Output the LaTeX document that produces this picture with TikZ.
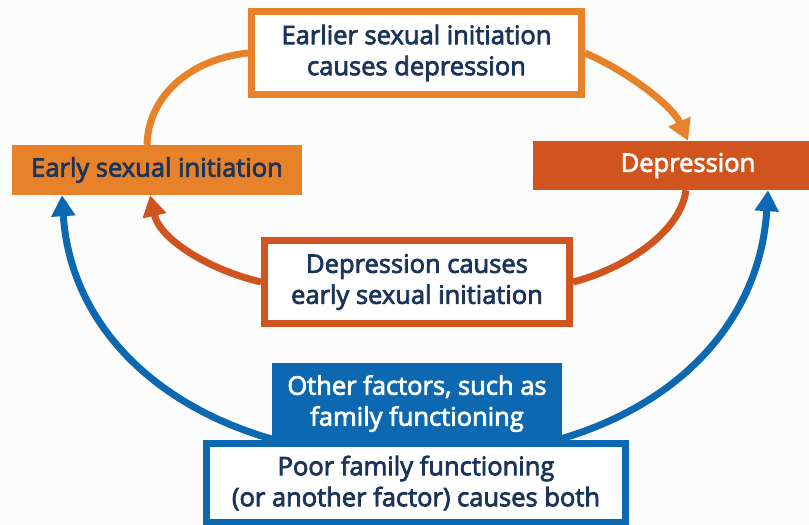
\documentclass[tikz,border=0pt]{standalone}
\usepackage{fontspec}
\setmainfont{Open Sans}[FakeBold=3]
\usetikzlibrary{arrows.meta}
\definecolor{lor}{HTML}{E8822A}
\definecolor{dor}{HTML}{D0541E}
\definecolor{blu}{HTML}{0C68B0}
\definecolor{navy}{HTML}{1A345A}
\pgfdeclarelayer{bglayer}
\pgfdeclarelayer{connlayer}
\pgfsetlayers{bglayer,connlayer,main}
\begin{document}
\begin{tikzpicture}[x=1pt,y=-1pt,
  txt/.style={font=\fontsize{25.5}{31}\selectfont, align=center, inner sep=0pt},
  solidbox/.style={txt, minimum width=#1, minimum height=50pt},
  framebox/.style={txt, draw, line width=7pt, fill=white, minimum height=83pt, minimum width=#1},
  conn/.style={line width=7pt},
  tip/.style={-{Triangle[width=23pt,length=21pt]}}
]
\useasboundingbox (0,0) rectangle (809,525);
\begin{pgfonlayer}{bglayer}
\fill[white!98!gray] (0,0) rectangle (809,525);
\end{pgfonlayer}

% nodes
\node[solidbox=290pt, fill=lor, text=navy] (early) at (157,170) {Early sexual initiation};
\node[solidbox=310pt, minimum height=49pt, fill=dor, text=white] (dep) at (688,165.5) {Depression};
\node[framebox=330pt, draw=lor, text=navy] (top) at (416.5,53) {Earlier sexual initiation\\causes depression};
\node[framebox=305pt, draw=dor, text=navy] (mid) at (417,282) {Depression causes\\early sexual initiation};
\node[txt, fill=blu, text=white, minimum width=290pt, minimum height=81pt] (other) at (417,403.5) {Other factors, such as\\family functioning};
\node[framebox=419pt, draw=blu, text=navy, minimum height=79pt] (poor) at (416,483) {Poor family functioning\\(or another factor) causes both};

\coordinate (bl) at (275,440);
\coordinate (br) at (557,440);

% connectors, under the boxes
\begin{pgfonlayer}{connlayer}
\draw[conn, lor] ([xshift=-10pt]early.north) .. controls (148,100) and (185,60) .. (top.west);
\draw[conn, lor, tip] (top.east) .. controls (625,70) and (672,105) .. (dep.north);
\draw[conn, dor] ([xshift=-2pt]dep.south) .. controls (680,235) and (620,270) .. (mid.east);
\draw[conn, dor, tip] (mid.west) .. controls (210,270) and (160,240) .. ([xshift=-7pt]early.south);
\draw[conn, blu, tip] (bl) .. controls (150,405) and (70,320) .. ([xshift=-95pt]early.south);
\draw[conn, blu, tip] (br) .. controls (680,405) and (760,320) .. ([xshift=80pt]dep.south);
\end{pgfonlayer}
\end{tikzpicture}
\end{document}
